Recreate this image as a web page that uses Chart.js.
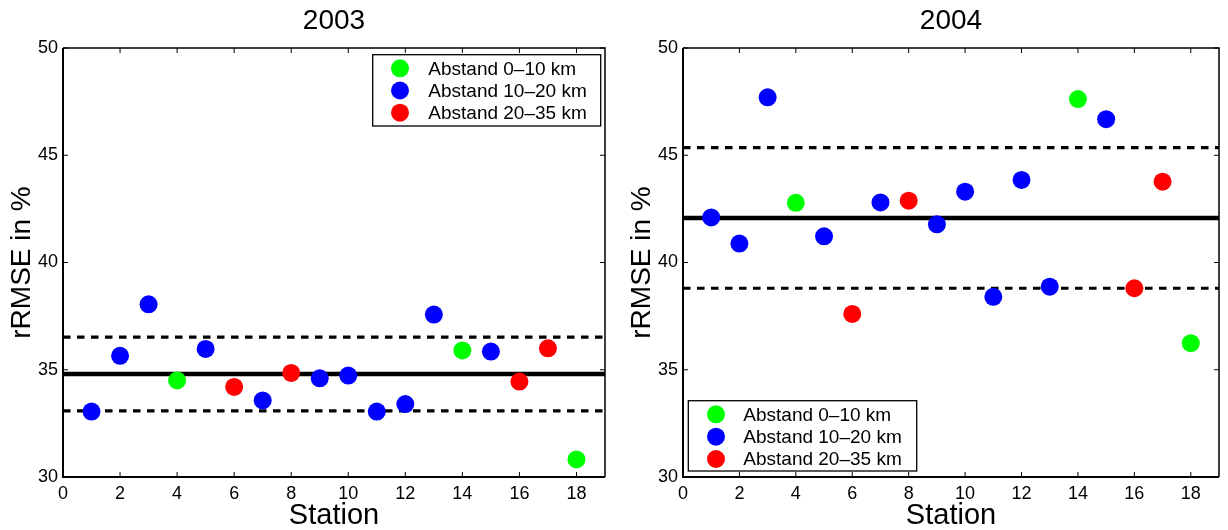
<!DOCTYPE html>
<html>
<head>
<meta charset="utf-8">
<script src="https://cdn.jsdelivr.net/npm/chart.js@4.4.1/dist/chart.umd.min.js"></script>
<style>
  html, body { margin: 0; padding: 0; background: #fff; }
  #wrap { display: flex; width: 1228px; height: 530px; }
  .cell { position: relative; width: 614px; height: 530px; }
</style>
</head>
<body>
<div id="wrap">
  <div class="cell"><canvas id="c2003" width="614" height="530"></canvas></div>
  <div class="cell"><canvas id="c2004" width="614" height="530"></canvas></div>
</div>
<script>
// ---- data ----
const stations = [1, 2, 3, 4, 5, 6, 7, 8, 9, 10, 11, 12, 13, 14, 15, 16, 17, 18];
// distance class of every station: 0 = 0-10 km, 1 = 10-20 km, 2 = 20-35 km
const distClass = [1, 1, 1, 0, 1, 2, 1, 2, 1, 1, 1, 1, 1, 0, 1, 2, 2, 0];
const rmse2003 = [33.05, 35.65, 38.05, 34.5, 35.97, 34.2, 33.57, 34.85, 34.6, 34.73, 33.05, 33.4, 37.57, 35.9, 35.85, 34.45, 36.0, 30.82];
const rmse2004 = [42.1, 40.88, 47.7, 42.78, 41.22, 37.6, 42.8, 42.88, 41.78, 43.3, 38.4, 43.85, 38.87, 47.62, 46.68, 38.8, 43.77, 36.24];
// mean and mean +/- std lines: [mean, upper, lower]
const lines2003 = [34.8, 36.52, 33.08];
const lines2004 = [42.08, 45.36, 38.8];
const classLabels = ['Abstand 0\u201310 km', 'Abstand 10\u201320 km', 'Abstand 20\u201335 km'];
const classColors = ['#00ff00', '#0000ff', '#ff0000'];
const xTicks = [0, 2, 4, 6, 8, 10, 12, 14, 16, 18];
const yTicks = [30, 35, 40, 45, 50];
const xRange = [0, 19];
const yRange = [30, 50];

const FONT = '"Liberation Sans", Arial, Helvetica, sans-serif';

function buildDatasets(values, lines) {
  const ds = classLabels.map((lab, k) => ({
    type: 'scatter',
    label: lab,
    data: stations.map((s, i) => ({ x: s, y: values[i], c: distClass[i] })).filter(p => p.c === k),
    backgroundColor: classColors[k],
    borderWidth: 0,
    pointRadius: 9,
    pointHoverRadius: 9,
    order: 0
  }));
  lines.forEach((v, j) => {
    ds.push({
      type: 'line',
      label: 'line' + j,
      data: [{ x: xRange[0], y: v }, { x: xRange[1], y: v }],
      borderColor: '#000',
      borderWidth: j === 0 ? 4.5 : 3.2,
      borderDash: j === 0 ? [] : [7.5, 6.5],
      pointRadius: 0,
      fill: false,
      order: 1
    });
  });
  return ds;
}

const framePlugin = {
  id: 'frame',
  afterDatasetsDraw(chart, args, opts) {
    const { ctx, chartArea: a, scales } = chart;
    ctx.save();
    ctx.strokeStyle = '#000';
    ctx.lineWidth = 1;
    const tl = 5;
    xTicks.forEach(t => {
      const px = scales.x.getPixelForValue(t);
      ctx.beginPath();
      ctx.moveTo(px, a.bottom); ctx.lineTo(px, a.bottom - tl);
      ctx.moveTo(px, a.top); ctx.lineTo(px, a.top + tl);
      ctx.stroke();
    });
    yTicks.forEach(t => {
      const py = scales.y.getPixelForValue(t);
      ctx.beginPath();
      ctx.moveTo(a.left, py); ctx.lineTo(a.left + tl, py);
      ctx.moveTo(a.right, py); ctx.lineTo(a.right - tl, py);
      ctx.stroke();
    });
    ctx.lineWidth = 1.5;
    ctx.beginPath();
    ctx.moveTo(a.left, a.top); ctx.lineTo(a.right, a.top); ctx.lineTo(a.right, a.bottom);
    ctx.stroke();
    ctx.lineWidth = 2;
    ctx.beginPath();
    ctx.moveTo(a.left, a.top); ctx.lineTo(a.left, a.bottom); ctx.lineTo(a.right, a.bottom);
    ctx.stroke();
    ctx.restore();
  },
  afterDraw(chart, args, opts) {
    const { ctx, chartArea: a } = chart;
    ctx.save();
    // title
    ctx.fillStyle = '#000';
    ctx.font = '28px ' + FONT;
    ctx.textAlign = 'center';
    ctx.textBaseline = 'middle';
    ctx.fillText(opts.title, (a.left + a.right) / 2, 21);
    // legend
    const L = opts.legend;
    ctx.fillStyle = '#fff';
    ctx.fillRect(L.x, L.y, L.w, L.h);
    ctx.strokeStyle = '#000';
    ctx.lineWidth = 1.3;
    ctx.strokeRect(L.x, L.y, L.w, L.h);
    ctx.font = '19px ' + FONT;
    ctx.textAlign = 'left';
    ctx.textBaseline = 'middle';
    classLabels.forEach((lab, k) => {
      const cy = L.y + L.row0 + k * L.rowH;
      ctx.fillStyle = classColors[k];
      ctx.beginPath();
      ctx.arc(L.x + L.mx, cy, 9, 0, Math.PI * 2);
      ctx.fill();
      ctx.fillStyle = '#000';
      ctx.fillText(lab, L.x + L.tx, cy + 1);
    });
    ctx.restore();
  }
};

function makeChart(id, values, lines, title, yAxisWidth, yTitlePad, padRight, legend) {
  return new Chart(document.getElementById(id), {
    data: { datasets: buildDatasets(values, lines) },
    options: {
      responsive: false,
      animation: false,
      events: [],
      layout: { padding: { left: 0, right: padRight, top: 48, bottom: 0 } },
      plugins: {
        legend: { display: false },
        tooltip: { enabled: false },
        title: { display: false },
        frame: { title: title, legend: legend }
      },
      scales: {
        x: {
          type: 'linear',
          min: xRange[0], max: xRange[1],
          afterBuildTicks: s => { s.ticks = xTicks.map(v => ({ value: v })); },
          grid: { display: false, drawTicks: false },
          border: { display: false },
          ticks: { color: '#000', font: { family: FONT, size: 18 }, padding: 6, maxRotation: 0 },
          title: { display: true, text: 'Station', color: '#000', font: { family: FONT, size: 29, lineHeight: 1 }, padding: { top: 0, bottom: 0 } },
          afterFit: s => { s.height = 53; }
        },
        y: {
          type: 'linear',
          min: yRange[0], max: yRange[1],
          afterBuildTicks: s => { s.ticks = yTicks.map(v => ({ value: v })); },
          grid: { display: false, drawTicks: false },
          border: { display: false },
          ticks: { color: '#000', font: { family: FONT, size: 18 }, padding: 5 },
          title: { display: true, text: 'rRMSE in %', color: '#000', font: { family: FONT, size: 28, lineHeight: 1 }, padding: { top: yTitlePad, bottom: 0 } },
          afterFit: s => { s.width = yAxisWidth; }
        }
      }
    },
    plugins: [framePlugin]
  });
}

makeChart('c2003', rmse2003, lines2003, '2003', 63, 8.5, 6,
  { x: 372.7, y: 54.7, w: 228, h: 71.3, mx: 27.3, tx: 55.6, row0: 13.6, rowH: 22.2 });
makeChart('c2004', rmse2004, lines2004, '2004', 69, 14.5, 2,
  { x: 74.3, y: 400.7, w: 228.4, h: 70.3, mx: 27.7, tx: 55, row0: 13.6, rowH: 22.35 });
</script>
</body>
</html>
